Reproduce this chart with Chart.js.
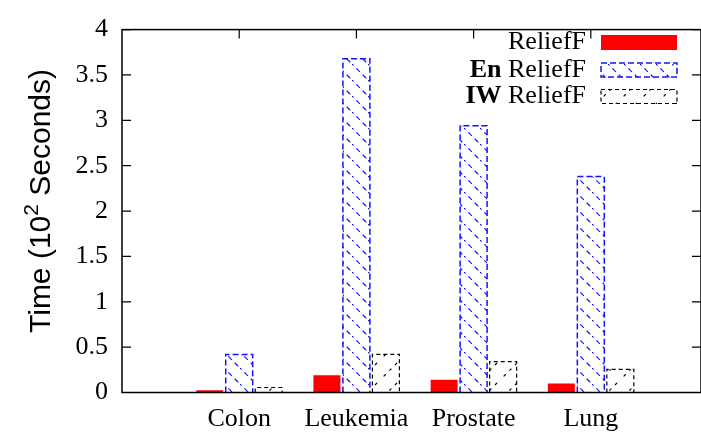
<!DOCTYPE html>
<html lang="en">
<head>
    <meta charset="UTF-8">
    <title>Time - ReliefF</title>
    <script src="https://cdn.jsdelivr.net/npm/chart.js"></script>
    <style>
        html, body { margin: 0; padding: 0; background: #fff; }
        #wrap { width: 701px; height: 438px; }
    </style>
</head>
<body>
    <div id="wrap"><canvas id="timeChart" width="701" height="438"></canvas></div>

    <script>
        // values (10^2 seconds)
        const categories = ['Colon', 'Leukemia', 'Prostate', 'Lung'];
        const relieff = [0.025, 0.19, 0.14, 0.10];
        const enRelieff = [0.42, 3.68, 2.94, 2.38];
        const iwRelieff = [0.055, 0.42, 0.34, 0.255];
        const yTicks = [0, 0.5, 1, 1.5, 2, 2.5, 3, 3.5, 4];

        const serif = '"Liberation Serif", "DejaVu Serif", serif';
        const sans = '"Liberation Sans", Arial, sans-serif';
        const blue = 'rgb(20,20,255)';

        // hatch patterns
        function makePattern(size, color, dir, dash) {
            const c = document.createElement('canvas');
            c.width = size; c.height = size;
            const g = c.getContext('2d');
            g.strokeStyle = color;
            g.lineWidth = 1.2;
            g.setLineDash(dash);
            g.beginPath();
            if (dir === '\\') { g.moveTo(-2, -2); g.lineTo(size + 2, size + 2); }
            else { g.moveTo(-2, size + 2); g.lineTo(size + 2, -2); }
            g.stroke();
            return g.createPattern(c, 'repeat');
        }
        const bluePattern = makePattern(16, blue, '\\', [5, 4]);
        const blackPattern = makePattern(20, '#000', '/', [3, 5]);

        function toPoints(arr) {
            return arr.map((v, i) => ({ x: i + 1, y: v }));
        }

        // dashed outlines, inward ticks, frame, y title and the legend
        const decor = {
            id: 'decor',
            afterDatasetsDraw(chart) {
                const ctx = chart.ctx;
                const area = chart.chartArea;
                const ys = chart.scales.y, xs = chart.scales.x;
                const outlines = [null, { color: blue, dash: [6, 3], w: 1.5 }, { color: '#000', dash: [4, 3], w: 1.2 }];
                ctx.save();
                outlines.forEach((o, di) => {
                    if (!o) return;
                    chart.getDatasetMeta(di).data.forEach(bar => {
                        const l = bar.x - bar.width / 2, r = bar.x + bar.width / 2;
                        ctx.strokeStyle = o.color;
                        ctx.lineWidth = o.w;
                        ctx.setLineDash(o.dash);
                        ctx.beginPath();
                        ctx.moveTo(l, bar.base);
                        ctx.lineTo(l, bar.y);
                        ctx.lineTo(r, bar.y);
                        ctx.lineTo(r, bar.base);
                        ctx.stroke();
                    });
                });
                ctx.setLineDash([]);
                ctx.strokeStyle = '#000';
                ctx.lineWidth = 1.5;
                ctx.strokeRect(area.left, area.top, area.right - area.left, area.bottom - area.top);
                ctx.lineWidth = 1.2;
                ctx.beginPath();
                yTicks.forEach(v => {
                    const py = ys.getPixelForValue(v);
                    ctx.moveTo(area.left, py); ctx.lineTo(area.left + 9, py);
                    ctx.moveTo(area.right, py); ctx.lineTo(area.right - 9, py);
                });
                categories.forEach((c, i) => {
                    const px = xs.getPixelForValue(i + 1);
                    ctx.moveTo(px, area.top); ctx.lineTo(px, area.top + 9);
                });
                ctx.stroke();

                // y title with a real superscript
                ctx.fillStyle = '#000';
                ctx.textAlign = 'left';
                ctx.textBaseline = 'alphabetic';
                const big = '30px ' + sans, small = '21px ' + sans;
                ctx.font = big;
                const w1 = ctx.measureText('Time (10').width;
                const w3 = ctx.measureText(' Seconds)').width;
                ctx.font = small;
                const w2 = ctx.measureText('2').width;
                const total = w1 + w2 + w3;
                ctx.translate(50, 201);
                ctx.rotate(-Math.PI / 2);
                let tx = -total / 2;
                ctx.font = big;
                ctx.fillText('Time (10', tx, 0);
                tx += w1;
                ctx.font = small;
                ctx.fillText('2', tx, -12);
                tx += w2;
                ctx.font = big;
                ctx.fillText(' Seconds)', tx, 0);
                ctx.setTransform(1, 0, 0, 1, 0, 0);

                // legend
                const rows = [
                    { bold: '', text: 'ReliefF', y: 42.5, fill: 'red' },
                    { bold: 'En', text: 'ReliefF', y: 70, fill: bluePattern, outline: outlines[1] },
                    { bold: 'IW', text: 'ReliefF', y: 96.5, fill: blackPattern, outline: outlines[2] }
                ];
                ctx.textBaseline = 'middle';
                rows.forEach(r => {
                    ctx.font = '26px ' + serif;
                    ctx.textAlign = 'right';
                    ctx.fillStyle = '#000';
                    ctx.fillText(r.text, 586, r.y);
                    if (r.bold) {
                        const w = ctx.measureText(' ' + r.text).width;
                        ctx.font = 'bold 26px ' + serif;
                        ctx.fillText(r.bold, 586 - w, r.y);
                    }
                    ctx.fillStyle = r.fill;
                    ctx.fillRect(601, r.y - 7.5, 76, 15);
                    if (r.outline) {
                        ctx.strokeStyle = r.outline.color;
                        ctx.lineWidth = r.outline.w;
                        ctx.setLineDash(r.outline.dash);
                        ctx.strokeRect(601, r.y - 7, 76, 14);
                        ctx.setLineDash([]);
                    }
                });
                ctx.restore();
            }
        };

        const ctx1 = document.getElementById('timeChart').getContext('2d');
        const timeChart = new Chart(ctx1, {
            type: 'bar',
            data: {
                datasets: [
                    { label: 'ReliefF', data: toPoints(relieff), backgroundColor: 'rgb(255,0,0)', borderWidth: 0 },
                    { label: 'En ReliefF', data: toPoints(enRelieff), backgroundColor: bluePattern, borderWidth: 0 },
                    { label: 'IW ReliefF', data: toPoints(iwRelieff), backgroundColor: blackPattern, borderWidth: 0 }
                ]
            },
            options: {
                responsive: false,
                animation: false,
                categoryPercentage: 0.755,
                barPercentage: 0.915,
                layout: { padding: { top: 20, right: 0, left: 0, bottom: 0 } },
                plugins: {
                    legend: { display: false },
                    tooltip: { enabled: false }
                },
                scales: {
                    x: {
                        type: 'linear',
                        offset: false,
                        min: 0,
                        max: 4.94,
                        grid: { display: false, drawTicks: false, offset: false },
                        border: { display: false },
                        afterFit(scale) { scale.height = 45.5; },
                        afterBuildTicks(scale) {
                            scale.ticks = categories.map((c, i) => ({ value: i + 1 }));
                        },
                        ticks: {
                            autoSkip: false,
                            maxRotation: 0,
                            padding: 11,
                            color: '#000',
                            font: { family: serif, size: 26 },
                            callback: v => categories[v - 1] || ''
                        }
                    },
                    y: {
                        min: 0,
                        max: 4,
                        grid: { display: false, drawTicks: false },
                        border: { display: false },
                        afterFit(scale) { scale.width = 122; },
                        afterBuildTicks(scale) {
                            scale.ticks = yTicks.map(v => ({ value: v }));
                        },
                        ticks: {
                            padding: 14,
                            color: '#000',
                            font: { family: serif, size: 26 },
                            callback: v => String(v)
                        }
                    }
                }
            },
            plugins: [decor]
        });
    </script>
</body>
</html>
